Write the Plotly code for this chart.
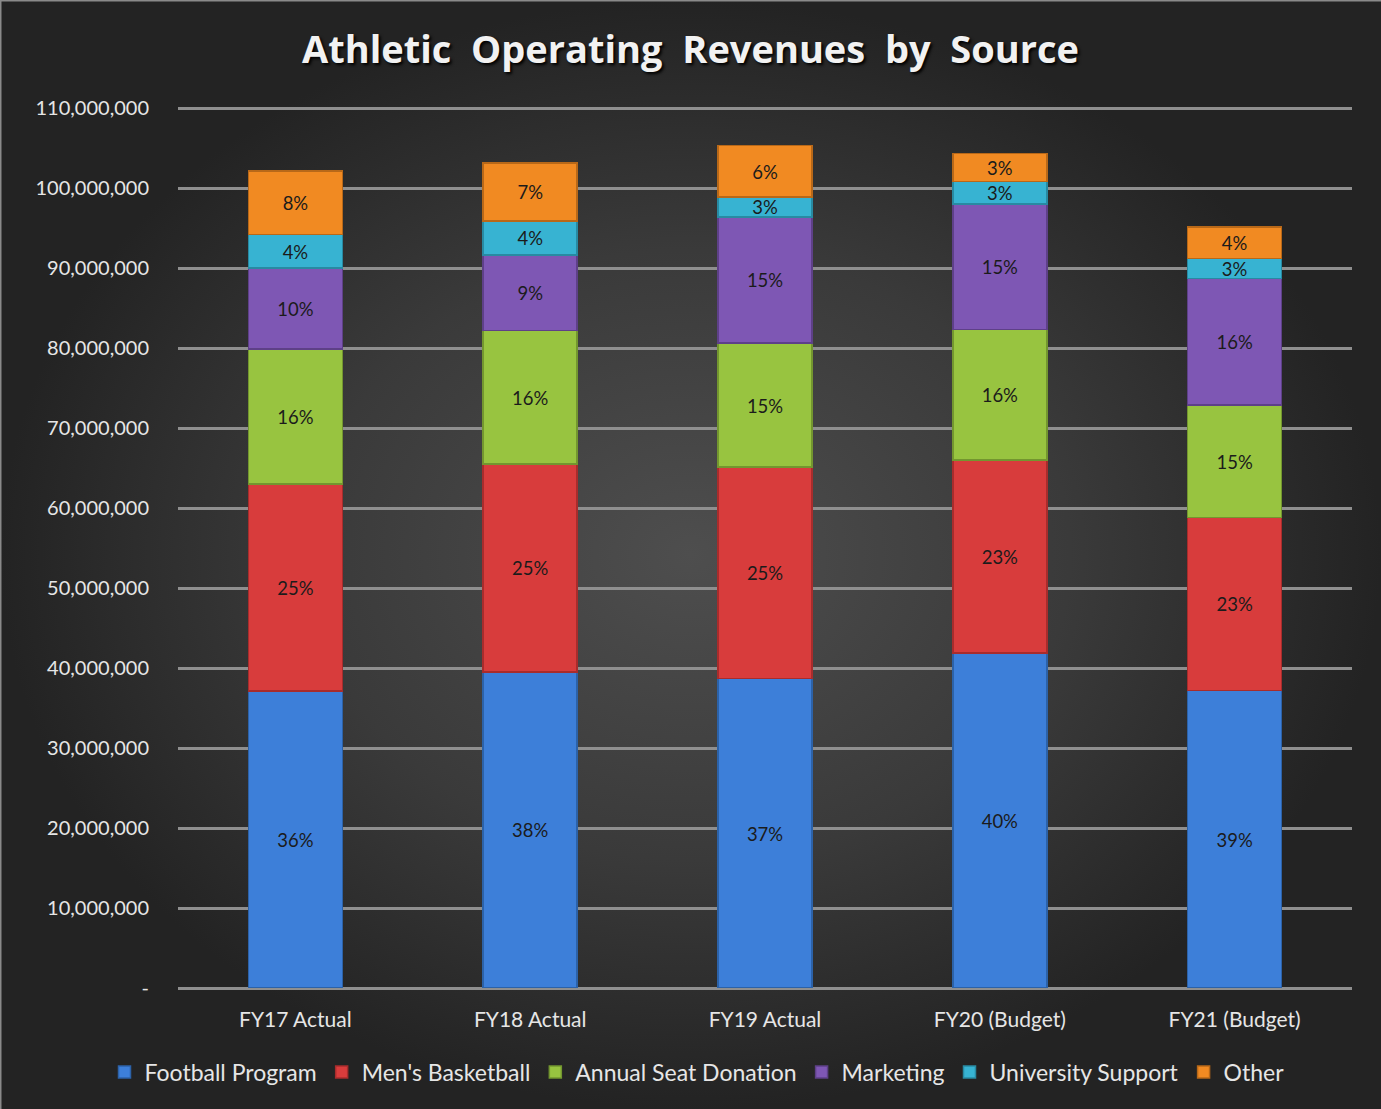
import plotly.graph_objects as go

categories = ["FY17 Actual", "FY18 Actual", "FY19 Actual", "FY20 (Budget)", "FY21 (Budget)"]

series_names = ["Football Program", "Men's Basketball", "Annual Seat Donation",
                "Marketing", "University Support", "Other"]

football = [37.1e6, 39.5e6, 38.7e6, 41.9e6, 37.2e6]
mens_basketball = [25.9e6, 26.0e6, 26.4e6, 24.1e6, 21.6e6]
annual_seat = [16.9e6, 16.7e6, 15.5e6, 16.3e6, 14.1e6]
marketing = [10.1e6, 9.4e6, 15.8e6, 15.7e6, 15.8e6]
university_support = [4.2e6, 4.3e6, 2.5e6, 2.8e6, 2.5e6]
other = [7.9e6, 7.2e6, 6.4e6, 3.5e6, 3.9e6]

pct_football = ["36%", "38%", "37%", "40%", "39%"]
pct_mens_basketball = ["25%", "25%", "25%", "23%", "23%"]
pct_annual_seat = ["16%", "16%", "15%", "16%", "15%"]
pct_marketing = ["10%", "9%", "15%", "15%", "16%"]
pct_university_support = ["4%", "4%", "3%", "3%", "3%"]
pct_other = ["8%", "7%", "6%", "3%", "4%"]

tick_vals = [0, 10e6, 20e6, 30e6, 40e6, 50e6, 60e6, 70e6, 80e6, 90e6, 100e6, 110e6]
tick_text = ["-", "10,000,000", "20,000,000", "30,000,000", "40,000,000", "50,000,000",
             "60,000,000", "70,000,000", "80,000,000", "90,000,000", "100,000,000", "110,000,000"]

colors = ["#3d7fd9", "#d83c3c", "#98c440", "#7e57b4", "#37b3d2", "#f18a22"]
line_colors = ["#2c62a8", "#a82c2c", "#73962f", "#5e4088", "#288aa2", "#b86818"]

values = [football, mens_basketball, annual_seat, marketing, university_support, other]
pcts = [pct_football, pct_mens_basketball, pct_annual_seat, pct_marketing,
        pct_university_support, pct_other]

FONT = "Lato"
W, H = 1381, 1109

fig = go.Figure()

# background radial gradient (decoration on a hidden full-page axis)
fig.add_trace(go.Scatter(
    x=[0, 1, 1, 0, 0], y=[0, 0, 1, 1, 0], mode="lines", fill="toself",
    line=dict(width=0),
    fillgradient=dict(type="radial",
                      colorscale=[[0, "#4e4e4e"], [0.55, "#3a3a3a"], [1, "#232323"]]),
    hoverinfo="skip", showlegend=False, xaxis="x", yaxis="y",
))

for name, vals, txt, c, lc in zip(series_names, values, pcts, colors, line_colors):
    fig.add_trace(go.Bar(
        name=name, x=categories, y=vals, text=txt,
        textposition="inside", insidetextanchor="middle",
        textfont=dict(family=FONT, size=21, color="#1b1b1b"),
        marker=dict(color=c, line=dict(color=lc, width=1.5)),
        hoverinfo="skip", xaxis="x2", yaxis="y2",
    ))

# plot area: 0 at y=988px, 110M at y=108px; range extended slightly so the top gridline shows
y_max = 111e6
px_per_unit = 880 / 110e6
top_px = 988 - y_max * px_per_unit
x0, x1 = 178 / W, 1352 / W
y0, y1 = 1 - 988 / H, 1 - top_px / H

fig.update_layout(
    barmode="stack",
    bargap=0.6,
    width=W, height=H,
    paper_bgcolor="#2a2a2a",
    plot_bgcolor="rgba(0,0,0,0)",
    margin=dict(l=0, r=0, t=0, b=0, autoexpand=False),
    title=dict(text="<b>Athletic  Operating  Revenues  by  Source</b>",
               x=0.5, xanchor="center", y=1 - 50 / H, yanchor="middle",
               yref="container", xref="container", automargin=False,
               font=dict(family="Open Sans", size=38, color="#f2f2f2",
                         shadow="2px 2px 3px #000000")),
    font=dict(family=FONT, color="#e6e6e6"),
    uniformtext=dict(mode="show", minsize=14),
    legend=dict(orientation="h", x=697 / W, xanchor="center", y=1 - 1072 / H, yanchor="middle",
                xref="container", yref="container", bgcolor="rgba(0,0,0,0)",
                font=dict(family=FONT, size=23, color="#e6e6e6"),
                itemwidth=30, traceorder="normal"),
    showlegend=True,
    xaxis=dict(domain=[0, 1], range=[0, 1], visible=False, fixedrange=True, automargin=False),
    yaxis=dict(domain=[0, 1], range=[0, 1], visible=False, fixedrange=True, automargin=False),
    xaxis2=dict(domain=[x0, x1], anchor="y2", automargin=False,
                tickfont=dict(family=FONT, size=21, color="#e6e6e6"),
                showline=False, ticks="", showgrid=False, ticklabelstandoff=17),
    yaxis2=dict(domain=[y0, y1], anchor="x2", range=[0, y_max], automargin=False,
                tickvals=tick_vals, ticktext=tick_text,
                tickfont=dict(family=FONT, size=20, color="#e6e6e6"),
                showgrid=True, gridcolor="#8f8f8f", gridwidth=2.5,
                zeroline=True, zerolinecolor="#8f8f8f", zerolinewidth=2.5,
                ticks="", ticklabelstandoff=28),
    shapes=[
        dict(type="line", xref="paper", yref="paper", x0=0, x1=1, y0=1, y1=1,
             line=dict(color="#8a8a8a", width=3)),
        dict(type="line", xref="paper", yref="paper", x0=0, x1=0, y0=0, y1=1,
             line=dict(color="#8a8a8a", width=3)),
    ],
)

fig.write_html("out.html", config={"displayModeBar": False},
               post_script="document.body.style.margin='0';document.body.style.background='#2a2a2a';")
